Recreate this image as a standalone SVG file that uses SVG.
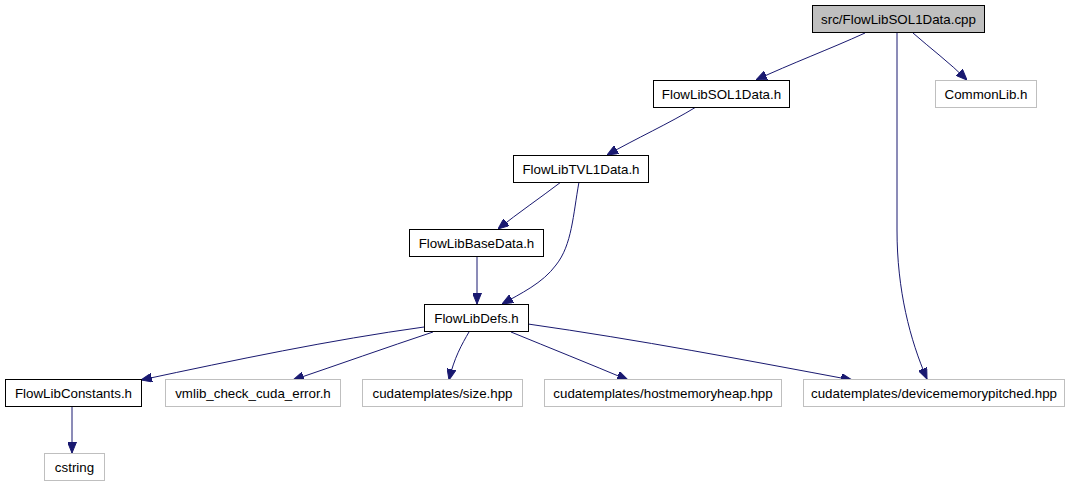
<svg xmlns="http://www.w3.org/2000/svg" width="1069" height="485" viewBox="0 0 1069 485">
<style>
.n rect{fill:#ffffff;stroke:#000000;stroke-width:1}
.n.ext rect{stroke:#bfbfbf}
.n.root rect{fill:#bfbfbf}
.n text{font-family:"Liberation Sans",Arial,sans-serif;font-size:13.33px;fill:#000000;text-anchor:middle}
#edges path{fill:none;stroke:#191970;stroke-width:1;marker-end:url(#arr)}
</style>
<defs>
<marker id="arr" markerUnits="userSpaceOnUse" markerWidth="11" markerHeight="9" refX="11" refY="4.5" orient="auto">
<path d="M0,0 L11,4.5 L0,9 z" fill="#191970" stroke="#191970" stroke-width="1"/>
</marker>
</defs>
<rect x="0" y="0" width="1069" height="485" fill="#ffffff"/>
<g id="edges">
<path d="M865,33 C830,49 790,64 756,80"/>
<path d="M913,33 C930,48 950,63 967,80"/>
<path d="M897,33 L897,230 C897,290 910,340 927,379"/>
<path d="M696,107 C670,123 635,139 607,155"/>
<path d="M561,182 C540,198 518,213 498,229"/>
<path d="M579,182 C573,215 572,245 556,265 C543,283 520,294 502,304"/>
<path d="M477,256 L477,304"/>
<path d="M424,327 C330,340 235,360 141,380"/>
<path d="M433,332 C385,348 340,364 293,380"/>
<path d="M469,332 C462,344 454,358 449,380"/>
<path d="M511,332 C550,348 590,364 628,380"/>
<path d="M528,324 C640,340 745,360 852,380"/>
<path d="M72,406 L72,453"/>
</g>
<g id="node-root" class="n root"><rect x="812.5" y="5.5" width="172" height="27"/><text x="898.5" y="24">src/FlowLibSOL1Data.cpp</text></g>
<g id="node-commonlib" class="n ext"><rect x="935.5" y="80.5" width="101" height="27"/><text x="986" y="99">CommonLib.h</text></g>
<g id="node-sol1" class="n"><rect x="653.5" y="80.5" width="136" height="27"/><text x="721.5" y="99">FlowLibSOL1Data.h</text></g>
<g id="node-tvl1" class="n"><rect x="513.5" y="155.5" width="135" height="27"/><text x="581" y="174">FlowLibTVL1Data.h</text></g>
<g id="node-base" class="n"><rect x="409.5" y="229.5" width="134" height="27"/><text x="476.5" y="248">FlowLibBaseData.h</text></g>
<g id="node-defs" class="n"><rect x="424.5" y="304.5" width="104" height="27"/><text x="476.5" y="323">FlowLibDefs.h</text></g>
<g id="node-constants" class="n"><rect x="5.5" y="379.5" width="136" height="27"/><text x="73.5" y="398">FlowLibConstants.h</text></g>
<g id="node-vmlib" class="n ext"><rect x="165.5" y="379.5" width="175" height="27"/><text x="253" y="398">vmlib_check_cuda_error.h</text></g>
<g id="node-size" class="n ext"><rect x="362.5" y="379.5" width="160" height="27"/><text x="442.5" y="398">cudatemplates/size.hpp</text></g>
<g id="node-hostmem" class="n ext"><rect x="544.5" y="379.5" width="237" height="27"/><text x="663" y="398">cudatemplates/hostmemoryheap.hpp</text></g>
<g id="node-devmem" class="n ext"><rect x="803.5" y="379.5" width="261" height="27"/><text x="934" y="398">cudatemplates/devicememorypitched.hpp</text></g>
<g id="node-cstring" class="n ext"><rect x="44.5" y="453.5" width="60" height="27"/><text x="74.5" y="472">cstring</text></g>
</svg>
